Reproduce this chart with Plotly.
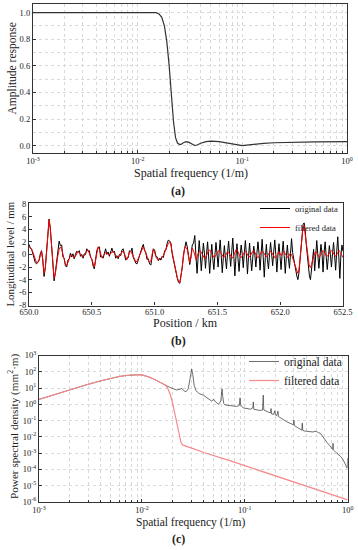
import numpy as np
import plotly.graph_objects as go

W, H = 358, 550
FONT = "Liberation Serif, Times New Roman, DejaVu Serif, serif"

# ---------------- (a) amplitude response ----------------
amp_freq = [0.001, 0.003, 0.006, 0.01, 0.013, 0.015, 0.016, 0.017, 0.018, 0.019, 0.020,
            0.021, 0.022, 0.023, 0.024, 0.025, 0.026, 0.027, 0.028, 0.029, 0.031, 0.033,
            0.035, 0.037, 0.040, 0.045, 0.050, 0.060, 0.070, 0.080, 0.090, 0.100, 0.110,
            0.130, 0.160, 0.200, 0.300, 0.500, 1.000]
amp_resp = [1.0, 1.0, 1.0, 1.0, 1.0, 1.0, 0.99, 0.965, 0.90, 0.78, 0.60,
            0.38, 0.18, 0.06, 0.02, 0.01, 0.01, 0.02, 0.027, 0.03, 0.025, 0.012,
            0.002, 0.005, 0.018, 0.030, 0.034, 0.030, 0.022, 0.012, 0.004, 0.001, 0.004,
            0.012, 0.018, 0.022, 0.026, 0.029, 0.031]

# ---------------- (b) longitudinal level ----------------
filtered_level = [
    1.3, 1.1, 0.8, 0.4, -0.3, -1.0, -1.3, -1.3, -1.0, -0.2,
    0.5, -0.8, -3.0, -2.2, 0.0, 3.2, 5.5, 4.0, 1.0, -2.0,
    -3.8, -3.0, -1.4, -0.2, 0.8, 1.2, 0.8, -0.1, -0.8, -1.5,
    -1.8, -1.2, -0.5, -0.2, -0.1, -0.3, -0.5, -0.3, 0.2, 0.5,
    0.3, -0.1, -0.3, -0.3, -0.2, 0.2, 0.6, 0.7, 0.3, -0.3,
    -0.8, -1.5, -2.0, -1.0, 0.3, 1.2, 0.8, -0.1, -0.5, -0.3,
    0.1, 0.3, 0.2, 0.0, 0.0, 0.2, 0.4, 0.5, 0.2, -0.3,
    -0.5, -0.4, -0.3, 0.0, 0.4, 0.5, 0.0, -0.6, -0.8, -0.3,
    0.4, 0.5, 0.2, -0.3, -0.7, -1.2, -1.1, -0.6, -0.2, 0.3,
    0.9, 1.2, 0.8, 0.1, -0.5, -0.9, -1.3, -1.1, 0.0, 0.8,
    0.4, -0.4, -0.7, -0.8, -0.8, -0.6, -0.4, -0.2, 0.3, 0.9,
    1.4, 1.8, 2.0, 1.5, 0.3, -0.8, -1.8, -2.6, -3.6, -4.3,
    -4.5, -3.5, -2.0, -0.3, 1.2, 1.1, 0.8, -0.3, -1.3, -0.5,
    1.0, 0.6, -0.3, -0.8, -0.3, 0.3, 0.5, 0.4, 0.0, -0.5,
    -0.7, -0.3, 0.2, 0.6, 0.7, 0.4, -0.1, -0.4, -0.4, -0.1,
    0.3, 0.6, 0.5, 0.1, -0.3, -0.5, -0.3, 0.1, 0.4, 0.3,
    0.0, -0.4, -0.6, -0.2, 0.4, 0.8, 0.6, 0.1, -0.3, -0.5,
    -0.2, 0.3, 0.5, 0.3, -0.1, -0.4, -0.3, 0.1, 0.5, 0.6,
    0.3, -0.2, -0.5, -0.4, 0.0, 0.4, 0.5, 0.2, -0.2, -0.4,
    -0.2, 0.2, 0.5, 0.4, 0.1, -0.3, -0.6, -0.4, 0.1, 0.4,
    0.2, -0.2, 0.3, 0.5, 0.1, -0.3, -0.5, -0.2, 0.2, 0.0,
    -0.6, -1.0, -1.5, -2.4, -3.0, -2.4, -0.6, 1.8, 4.0, 4.6,
    3.0, 0.8, -0.6, -1.6, -2.1, -1.6, -0.7, 0.0, 0.4, 0.3,
    -0.1, -0.4, -0.2, 0.3, 0.6, 0.4, 0.0, -0.3, -0.2, 0.2,
    0.5, 0.6, 0.3, -0.1, -0.3, 0.0, 0.4, 0.6, 0.3, -0.2,
    -0.5]
pos_filtered = np.linspace(650.0, 652.5, len(filtered_level))

original_level = [
    # 650.00 - 651.33 km, 10 m sampling
    1.6, 1.0, 0.9, 0.2, -0.6, -1.3, -1.5, -1.1, -0.9, 0.1,
    0.6, -1.0, -3.5, -2.0, 0.2, 3.0, 5.6, 4.1, 0.8, -2.3,
    -4.2, -2.8, -1.0, 0.3, 2.1, 1.4, 1.5, -0.4, -0.6, -1.8,
    -2.0, -0.9, -0.7, 0.2, -0.4, 0.1, -0.7, 0.0, 0.5, 0.3,
    0.6, -0.3, 0.0, -0.6, 0.1, 0.0, 0.9, 0.5, 0.6, -0.5,
    -0.7, -1.8, -2.3, -0.8, 0.6, 1.1, 1.2, -0.4, -0.3, -0.6,
    0.4, 0.9, 0.0, 0.4, -0.3, 0.5, 1.0, 0.3, 0.5, -0.6,
    -0.2, -0.7, 0.0, -0.2, 0.7, 0.9, 0.2, -0.9, -0.6, -0.5,
    0.6, 0.4, 1.0, -0.5, -0.9, -1.4, -1.5, -0.8, 0.1, 0.5,
    1.1, 1.6, 0.6, 0.3, -0.8, -0.7, -1.5, -1.7, -0.4, 0.9,
    0.7, -0.2, -0.4, -1.0, -0.6, -0.9, -0.3, -0.5, 0.6, 0.7,
    1.8, 2.3, 2.1, 1.8, 0.1, -1.0, -1.7, -2.9, -3.7, -4.4,
    -4.6, -3.3, -2.1, 0.0, 1.4, 2.0, 1.2, -0.6, -1.6, -0.2,
    1.5, 1.8, 3.0, -0.5,
    # 651.34 - 652.50 km, ~8.4 m sampling
    -3.0, -0.4, 2.2, 0.1, -2.6, -0.3, 1.8, 0.2, -2.2, 0.1, 2.0, -0.4,
    -3.0, -0.6, 1.6, -0.8, -2.4, 0.0, 1.9, 0.1, -2.0, 0.3, 2.3, -0.2,
    -2.9, -0.5, 1.4, -0.6, -2.3, 0.2, 2.1, 0.0, -1.9, 0.4, 2.6, -0.3,
    -3.4, -0.4, 1.7, -0.7, -2.7, -0.2, 1.5, 0.1, -2.1, 0.3, 2.2, -0.1,
    -3.1, -0.3, 1.8, -0.5, -2.6, -0.6, 1.3, 0.0, -2.0, 0.2, 2.0, 0.2,
    -2.5, 0.1, 2.4, -0.4, -3.6, -0.5, 1.6, -0.8, -2.3, 0.0, 1.9, 0.1,
    -1.8, 0.4, 2.3, 0.0, -2.8, -0.2, 1.7, -0.3, -2.4, 0.1, 2.1, -0.2,
    -3.0, -0.4, 1.5, -0.6, -2.2, 0.1, 2.5, 0.3,
    -0.8, -1.6, -2.4, -3.4, -4.0, -3.0, -1.0, 1.5, 3.6, 4.8,
    5.0, 3.8, 1.6, -0.4, -2.0, -3.4, -4.0, -2.6, -0.6, 0.8,
    -2.6, -0.4, 2.2, 0.0, -2.2, -0.2, 1.6, 0.2, -2.8, 0.3, 2.0, -0.3,
    -2.4, -0.5, 1.4, 0.0, -2.0, 0.1, 1.9, -0.2, -2.5, 0.4, 2.8, -0.4,
    -3.8, -0.1, 1.5, 0.5]
pos_original = np.concatenate([np.linspace(650.0, 651.33, 134),
                               np.linspace(651.3383, 652.5, 140)])

# ---------------- (c) power spectral density ----------------
psd_freq_filtered = [0.001, 0.0015, 0.002, 0.003, 0.004, 0.005, 0.006, 0.007, 0.008, 0.009,
                     0.010, 0.011, 0.012, 0.013, 0.014, 0.015, 0.016, 0.017, 0.018, 0.019,
                     0.020, 0.021, 0.022, 0.023, 0.024, 0.025, 0.027, 0.030, 0.040, 0.050,
                     0.070, 0.100, 0.150, 0.200, 0.300, 0.500, 0.700, 1.000]
psd_filtered = [2.0, 4.5, 8.0, 17, 28, 40, 51, 59, 64, 66,
                65, 56, 45, 36, 29, 24, 20, 15, 8.5, 3.5,
                1.0, 0.25, 0.05, 0.012, 0.0045, 0.0031, 0.0027, 0.0021, 0.0011, 7.2e-4,
                3.6e-4, 1.7e-4, 7.2e-5, 3.9e-5, 1.65e-5, 5.6e-6, 2.8e-6, 1.35e-6]

psd_freq_original = [0.001, 0.0015, 0.002, 0.003, 0.004, 0.005, 0.006, 0.007, 0.008, 0.009,
                     0.010, 0.011, 0.012, 0.013, 0.014, 0.015, 0.016, 0.017, 0.0187, 0.020,
                     0.0218, 0.0235, 0.0244, 0.0255, 0.0268, 0.0282, 0.0292, 0.0300, 0.0305, 0.0312,
                     0.0322, 0.0335, 0.036, 0.0395, 0.044, 0.0475, 0.050, 0.052, 0.0555, 0.0585,
                     0.0596, 0.0602, 0.0610, 0.0625, 0.064, 0.070, 0.078, 0.0833, 0.0885, 0.0899,
                     0.0912, 0.0966, 0.105, 0.113, 0.1195, 0.121, 0.1225, 0.130, 0.140, 0.149,
                     0.151, 0.153, 0.160, 0.170, 0.178, 0.180, 0.182, 0.190, 0.196, 0.198,
                     0.205, 0.210, 0.212, 0.220, 0.230, 0.240, 0.255, 0.270, 0.285, 0.298,
                     0.300, 0.303, 0.320, 0.340, 0.358, 0.362, 0.366, 0.380, 0.400, 0.420,
                     0.440, 0.460, 0.480, 0.500, 0.520, 0.540, 0.570, 0.600, 0.630, 0.660,
                     0.690, 0.715, 0.720, 0.725, 0.760, 0.800, 0.830, 0.860, 0.900, 0.930,
                     0.960, 0.975, 0.990, 1.000]
psd_original = [2.0, 4.5, 8.0, 17, 28, 40, 51, 59, 64, 66,
                65, 56, 45, 36, 29, 24, 19, 15, 11, 9.5,
                7.6, 8.5, 9.6, 7.0, 5.9, 9, 30, 100, 145, 70,
                15, 7.0, 4.6, 3.7, 2.2, 1.6, 2.0, 1.4, 1.0, 1.6,
                6, 9, 3, 1.1, 0.93, 0.85, 0.78, 0.74, 0.85, 2.5,
                0.9, 0.6, 0.55, 0.5, 0.6, 1.4, 0.5, 0.45, 0.42, 0.45,
                3.7, 0.45, 0.38, 0.33, 0.3, 0.55, 0.26, 0.24, 0.4, 0.22,
                0.21, 0.38, 0.18, 0.16, 0.13, 0.11, 0.085, 0.075, 0.06, 0.055,
                0.11, 0.05, 0.04, 0.03, 0.026, 0.07, 0.025, 0.023, 0.022, 0.021,
                0.022, 0.020, 0.022, 0.021, 0.018, 0.017, 0.011, 0.0065, 0.0045, 0.0032,
                0.0022, 0.0017, 0.004, 0.0016, 0.0012, 9e-4, 7e-4, 6e-4, 4e-4, 2.8e-4,
                1.8e-4, 1.35e-4, 1.2e-4, 5e-4]

# ---------------- figure ----------------
fig = go.Figure()

fig.add_trace(go.Scatter(x=amp_freq, y=amp_resp, mode="lines", line=dict(color="#333333", width=1.2),
                         xaxis="x", yaxis="y", showlegend=False))

fig.add_trace(go.Scatter(x=pos_original, y=original_level, mode="lines", name="original data",
                         line=dict(color="#000000", width=1.0), xaxis="x2", yaxis="y2", legend="legend"))
fig.add_trace(go.Scatter(x=pos_filtered, y=filtered_level, mode="lines", name="filtered data",
                         line=dict(color="#ff0000", width=1.0), xaxis="x2", yaxis="y2", legend="legend"))

fig.add_trace(go.Scatter(x=psd_freq_original, y=psd_original, mode="lines", name="original data",
                         line=dict(color="#4a4a4a", width=0.8), xaxis="x3", yaxis="y3", legend="legend2"))
fig.add_trace(go.Scatter(x=psd_freq_filtered, y=psd_filtered, mode="lines", name="filtered data",
                         line=dict(color="#f48a8a", width=1.2), xaxis="x3", yaxis="y3", legend="legend2"))

def px(x):
    return x / W

def py(y):
    return 1 - y / H

tickfont = dict(family=FONT, size=8.5, color="#222")
grid = dict(showgrid=True, gridcolor="#d9d9d9", griddash="dot", gridwidth=0.8)
base = dict(showline=True, linecolor="#333", linewidth=1.3, mirror=True, ticks="inside",
            ticklen=3, tickcolor="#333", tickfont=tickfont, zeroline=False, automargin=False)

log_vals = [1e-3, 1e-2, 1e-1, 1]
log_text = ["10<sup>-3</sup>", "10<sup>-2</sup>", "10<sup>-1</sup>", "10<sup>0</sup>"]
minor_vals = [m * 10.0 ** e for e in (-3, -2, -1) for m in range(2, 10)]
minor_log = dict(tickmode="array", tickvals=minor_vals, ticks="inside", ticklen=2,
                 tickcolor="#333", showgrid=True, gridcolor="#d9d9d9", griddash="dot", gridwidth=0.8)

fig.update_layout(
    width=W, height=H, margin=dict(l=0, r=0, t=0, b=0),
    paper_bgcolor="white", plot_bgcolor="white",
    font=dict(family=FONT, color="#222"),
    xaxis=dict(**base, **grid, type="log", range=[-3, 0], tickvals=log_vals, ticktext=log_text,
               minor=minor_log, domain=[px(33), px(347)], anchor="y"),
    yaxis=dict(**base, **grid, range=[-0.055, 1.065], tickvals=[0, 0.2, 0.4, 0.6, 0.8, 1.0],
               ticktext=["0.0", "0.2", "0.4", "0.6", "0.8", "1.0"],
               minor=dict(dtick=0.1, showgrid=True, gridcolor="#d9d9d9", griddash="dot", ticks=""),
               domain=[py(153), py(4)], anchor="x"),
    xaxis2=dict(**base, showgrid=False, range=[650.0, 652.5], tickvals=[650.0, 650.5, 651.0, 651.5, 652.0, 652.5],
                ticktext=["650.0", "650.5", "651.0", "651.5", "652.0", "652.5"],
                ticklabelstandoff=-2, domain=[px(29), px(343)], anchor="y2"),
    yaxis2=dict(**base, showgrid=False, range=[-8.1, 8.11], tickvals=[-8, -6, -4, -2, 0, 2, 4, 6, 8],
                ticktext=["-8", "-6", "-4", "-2", "0", "2", "4", "6", "8"],
                domain=[py(305.5), py(203.3)], anchor="x2"),
    xaxis3=dict(**base, **grid, type="log", range=[-3, 0], tickvals=log_vals, ticktext=log_text,
                minor=minor_log, domain=[px(39), px(347.7)], anchor="y3"),
    yaxis3=dict(**base, **grid, type="log", range=[-6, 3],
                tickvals=[1e-6, 1e-5, 1e-4, 1e-3, 1e-2, 1e-1, 1, 10, 100, 1000],
                ticktext=["10<sup>-6</sup>", "10<sup>-5</sup>", "10<sup>-4</sup>", "10<sup>-3</sup>",
                          "10<sup>-2</sup>", "10<sup>-1</sup>", "10<sup>0</sup>", "10<sup>1</sup>",
                          "10<sup>2</sup>", "10<sup>3</sup>"],
                domain=[py(502), py(355.5)], anchor="x3"),
    legend=dict(x=px(255), y=py(194), xanchor="left", yanchor="top", bgcolor="rgba(0,0,0,0)",
                font=dict(family=FONT, size=8.5, color="#222"), tracegroupgap=0, itemwidth=30),
    legend2=dict(x=px(244), y=py(347), xanchor="left", yanchor="top", bgcolor="rgba(0,0,0,0)",
                 font=dict(family=FONT, size=11.5, color="#222"), tracegroupgap=0, itemwidth=30),
)

ann = dict(xref="paper", yref="paper", showarrow=False, xanchor="center", yanchor="middle")
def f(size):
    return dict(family=FONT, size=size, color="#222")

annotations = [
    dict(text="Amplitude response", x=px(11.5), y=py(69), textangle=-90, font=f(11.5), **ann),
    dict(text="Spatial frequency (1/m)", x=px(191), y=py(172.5), font=f(12), **ann),
    dict(text="<b>(a)</b>", x=px(178), y=py(190.5), font=f(12), **ann),
    dict(text="Longitudinal level / mm", x=px(9.5), y=py(254), textangle=-90, font=f(10.8), **ann),
    dict(text="Position / km", x=px(186), y=py(323), font=f(12), **ann),
    dict(text="<b>(b)</b>", x=px(178), y=py(340.5), font=f(12), **ann),
    dict(text="Power spectral density (mm<sup>2</sup>·m)", x=px(13), y=py(426), textangle=-90,
         font=f(11.2), **ann),
    dict(text="Spatial frequency (1/m)", x=px(190), y=py(522), font=f(11.5), **ann),
    dict(text="<b>(c)</b>", x=px(178), y=py(539), font=f(12), **ann),
]
fig.update_layout(annotations=annotations)

fig.write_html("out.html", config={"displayModeBar": False},
               post_script="document.body.style.margin='0';document.body.style.padding='0';document.body.style.overflow='hidden';")
